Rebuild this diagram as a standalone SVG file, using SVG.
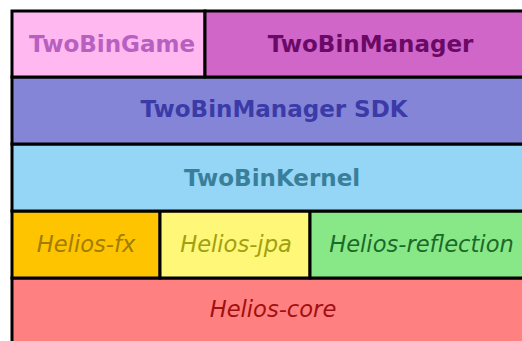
<svg xmlns="http://www.w3.org/2000/svg" width="522" height="341" viewBox="0 0 522 341">
<style>
.c{stroke:#000;stroke-width:3}
.b{font-family:"DejaVu Sans",sans-serif;font-weight:bold;font-size:23px;text-anchor:middle}
.i{font-family:"DejaVu Sans",sans-serif;font-style:oblique;font-size:22.6px;text-anchor:middle}
</style>
<rect width="522" height="341" fill="#fff"/>
<g id="helios-core"><rect class="c" x="12" y="278" width="600" height="100" fill="#ff8080"/><text class="i" x="273" y="317" fill="#a01010">Helios-core</text></g>
<g id="helios-fx"><rect class="c" x="12" y="211" width="148" height="67" fill="#ffc400"/><text class="i" x="86" y="252" fill="#a07c00">Helios-fx</text></g>
<g id="helios-jpa"><rect class="c" x="160" y="211" width="150" height="67" fill="#fff778"/><text class="i" x="236" y="252" fill="#a0a010">Helios-jpa</text></g>
<g id="helios-reflection"><rect class="c" x="310" y="211" width="300" height="67" fill="#88e888"/><text class="i" x="421.5" y="252" fill="#1a6a28">Helios-reflection</text></g>
<g id="kernel"><rect class="c" x="12" y="144" width="600" height="67" fill="#95d5f5"/><text class="b" x="272" y="186" fill="#3a7f9a">TwoBinKernel</text></g>
<g id="sdk"><rect class="c" x="12" y="77" width="600" height="67" fill="#8585d8"/><text class="b" x="274" y="117" fill="#3b3ba8">TwoBinManager SDK</text></g>
<g id="game"><rect class="c" x="12" y="11" width="193" height="66" fill="#ffb8f0"/><text class="b" x="112" y="52" fill="#b860c0">TwoBinGame</text></g>
<g id="manager"><rect class="c" x="205" y="11" width="400" height="66" fill="#d066c8"/><text class="b" x="370.5" y="52" fill="#6b0a66">TwoBinManager</text></g>
<g id="connectors"/>
</svg>
